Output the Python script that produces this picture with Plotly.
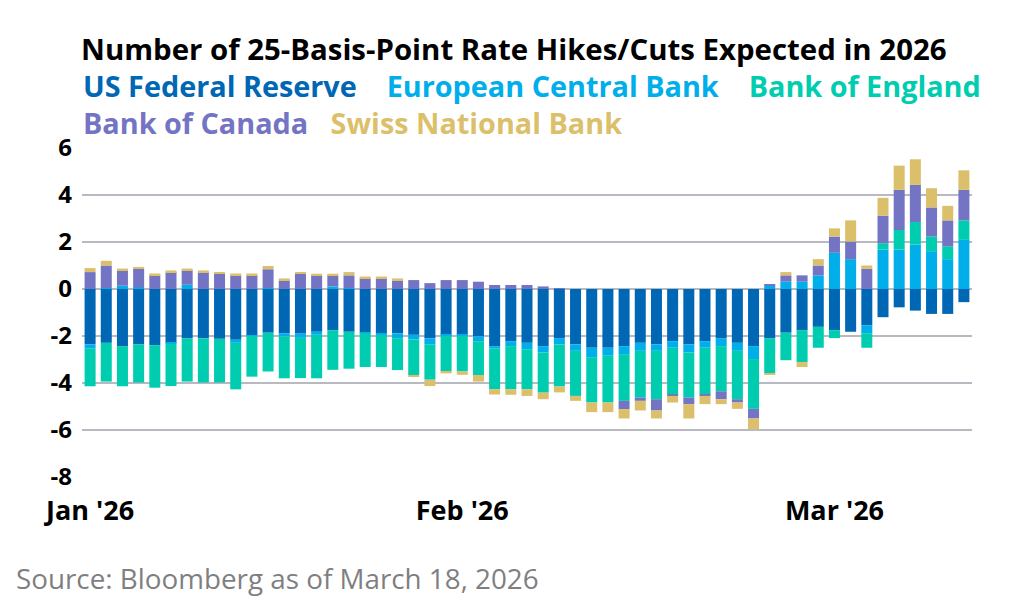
import plotly.graph_objects as go

# business days, Jan 1 - Mar 18 2026
dates = [
    "2026-01-01", "2026-01-02", "2026-01-05", "2026-01-06", "2026-01-07", "2026-01-08", "2026-01-09",
    "2026-01-12", "2026-01-13", "2026-01-14", "2026-01-15", "2026-01-16", "2026-01-19", "2026-01-20",
    "2026-01-21", "2026-01-22", "2026-01-23", "2026-01-26", "2026-01-27", "2026-01-28", "2026-01-29",
    "2026-01-30", "2026-02-02", "2026-02-03", "2026-02-04", "2026-02-05", "2026-02-06", "2026-02-09",
    "2026-02-10", "2026-02-11", "2026-02-12", "2026-02-13", "2026-02-16", "2026-02-17", "2026-02-18",
    "2026-02-19", "2026-02-20", "2026-02-23", "2026-02-24", "2026-02-25", "2026-02-26", "2026-02-27",
    "2026-03-02", "2026-03-03", "2026-03-04", "2026-03-05", "2026-03-06", "2026-03-09", "2026-03-10",
    "2026-03-11", "2026-03-12", "2026-03-13", "2026-03-16", "2026-03-17", "2026-03-18",
]

fed = [-2.36, -2.29, -2.43, -2.36, -2.39, -2.29, -2.09, -2.10, -2.12, -2.16, -1.96,
       -1.86, -1.88, -1.90, -1.82, -1.75, -1.82, -1.84, -1.89, -1.89, -1.95, -2.10,
       -1.95, -1.95, -2.02, -2.43, -2.22, -2.29, -2.43, -2.09, -2.36, -2.50, -2.50,
       -2.43, -2.29, -2.36, -2.22, -2.36, -2.22, -2.09, -2.29, -2.43, -2.09, -1.86,
       -1.75, -1.61, -1.75, -1.82, -1.54, -1.20, -0.78, -0.92, -1.06, -1.06, -0.56]

ecb = [-0.18, 0.04, 0.14, 0.07, 0.00, -0.04, 0.18, 0.00, 0.00, -0.13, -0.03,
       0.04, -0.13, -0.18, -0.13, 0.11, 0.04, -0.04, -0.06, -0.20, -0.20, -0.25,
       -0.05, -0.05, -0.20, -0.11, -0.21, -0.27, -0.27, -0.27, -0.27, -0.40, -0.34,
       -0.34, -0.34, -0.27, -0.28, -0.34, -0.28, -0.34, -0.34, -0.55, 0.15, 0.31,
       0.31, 0.58, 1.54, 1.27, -0.34, 1.68, 1.68, 1.89, 1.61, 1.27, 2.09]

boe = [-1.60, -1.65, -1.71, -1.62, -1.81, -1.80, -1.85, -1.88, -1.86, -1.98, -1.74,
       -1.65, -1.79, -1.71, -1.85, -1.69, -1.57, -1.44, -1.37, -1.36, -1.51, -1.51,
       -1.51, -1.51, -1.44, -1.72, -1.84, -1.71, -1.71, -1.79, -1.92, -1.93, -1.99,
       -1.99, -1.99, -2.06, -1.99, -1.92, -1.99, -1.92, -2.06, -2.12, -1.51, -1.17,
       -1.36, -0.89, -0.34, 0.00, -0.62, 0.27, 0.83, 0.96, 0.62, 0.55, 0.83]

boc = [0.72, 0.96, 0.65, 0.79, 0.59, 0.72, 0.61, 0.72, 0.65, 0.58, 0.59,
       0.80, 0.37, 0.65, 0.58, 0.47, 0.54, 0.45, 0.45, 0.38, 0.38, 0.25,
       0.38, 0.38, 0.31, 0.17, 0.17, 0.17, 0.11, 0.03, 0.00, 0.00, 0.00,
       -0.35, -0.14, -0.48, -0.06, -0.28, -0.06, -0.34, -0.14, -0.41, 0.05, 0.27,
       0.27, 0.42, 0.69, 0.75, 0.86, 1.17, 1.71, 1.58, 1.24, 1.10, 1.30]

snb = [0.17, 0.20, 0.08, 0.08, 0.07, 0.07, 0.08, 0.07, 0.07, 0.08, 0.07,
       0.14, 0.08, 0.07, 0.07, 0.07, 0.14, 0.08, 0.08, 0.07, -0.07, -0.27,
       -0.08, -0.14, -0.28, -0.23, -0.23, -0.28, -0.28, -0.25, -0.21, -0.41, -0.41,
       -0.40, -0.41, -0.34, -0.28, -0.61, -0.35, -0.21, -0.27, -0.45, -0.06, 0.14,
       -0.21, 0.27, 0.35, 0.90, 0.14, 0.76, 1.03, 1.09, 0.82, 0.62, 0.83]

series = [
    ("US Federal Reserve", fed, "#0067b4"),
    ("European Central Bank", ecb, "#00aeea"),
    ("Bank of England", boe, "#00cdb0"),
    ("Bank of Canada", boc, "#7474c4"),
    ("Swiss National Bank", snb, "#dcbf6a"),
]

tick_idx = [0, 23, 46]
tick_labels = ["Jan '26", "Feb '26", "Mar '26"]
y_ticks = [-8, -6, -4, -2, 0, 2, 4, 6]

FONT = "Open Sans"
NB = "\u00a0"

fig = go.Figure()
for name, vals, col in series:
    fig.add_trace(go.Bar(x=dates, y=vals, name=name, marker_color=col, marker_line_width=0))

# page adds an 8px body margin, so the figure is a bit smaller than the window
fig.update_layout(
    barmode="relative",
    bargap=0.32,
    width=1016, height=598,
    margin=dict(l=74, r=52, t=140, b=129),
    paper_bgcolor="white", plot_bgcolor="white",
    showlegend=False,
    font=dict(family=FONT, color="black"),
)
fig.update_xaxes(
    type="category",
    tickvals=[dates[i] for i in tick_idx],
    ticktext=["<b>%s</b>" % t for t in tick_labels],
    tickfont=dict(size=27, color="black"),
    showgrid=False, showline=False, ticks="",
    ticklabelstandoff=15, automargin=False,
)
fig.update_yaxes(
    range=[-8, 6],
    tickvals=y_ticks,
    ticktext=["<b>%d</b>" % v for v in y_ticks],
    tickfont=dict(size=24, color="black"),
    showgrid=True, gridcolor="#b9b9c1", gridwidth=1.6,
    zeroline=False, showline=False, ticks="",
    ticklabelstandoff=9, automargin=False,
)

fig.add_annotation(text="<b>Number of 25-Basis-Point Rate Hikes/Cuts Expected in 2026</b>",
                   xref="paper", yref="paper", x=0, y=1, xanchor="left", yanchor="middle",
                   xshift=-3, yshift=99, showarrow=False,
                   font=dict(size=29.4, color="black", family=FONT))

# coloured legend text, two rows in one block
def span(i):
    name, _, col = series[i]
    return "<span style='color:%s'>%s</span>" % (col, name.replace(" ", NB))

legend_text = ("<b>" + span(0) + NB * 4 + span(1) + NB * 4 + span(2) + "<br>"
               + span(3) + NB * 3 + span(4) + "</b>")
fig.add_annotation(text=legend_text, xref="paper", yref="paper", x=0, y=1,
                   xanchor="left", yanchor="middle", align="left",
                   xshift=-1, yshift=44, showarrow=False,
                   font=dict(size=28.8, family=FONT))

fig.add_annotation(text="Source: Bloomberg as of March 18, 2026",
                   xref="paper", yref="paper", x=0, y=0, xanchor="left", yanchor="middle",
                   xshift=-68, yshift=-101, showarrow=False,
                   font=dict(size=27.8, color="#7f7f7f", family=FONT))

fig.write_html("out.html")
